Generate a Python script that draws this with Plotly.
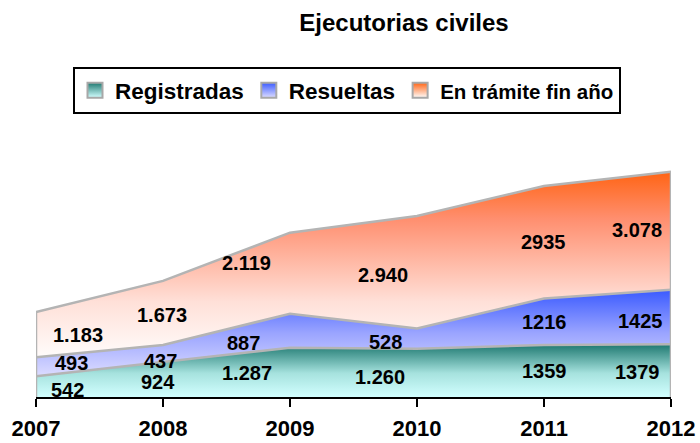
import plotly.graph_objects as go

years = [2007, 2008, 2009, 2010, 2011, 2012]
registradas = [542, 924, 1287, 1260, 1359, 1379]
resueltas = [493, 437, 887, 528, 1216, 1425]
en_tramite = [1183, 1673, 2119, 2940, 2935, 3078]

lbl_registradas = ["542", "924", "1.287", "1.260", "1359", "1379"]
lbl_resueltas = ["493", "437", "887", "528", "1216", "1425"]
lbl_tramite = ["1.183", "1.673", "2.119", "2.940", "2935", "3.078"]

# label anchor positions (text placement only)
pos_reg_x = [2007.25, 2007.96, 2008.66, 2009.71, 2011.0, 2011.74]
pos_reg_y = [183, 392, 627, 522, 679, 653]
pos_res_x = [2007.28, 2007.98, 2008.63, 2009.75, 2011.0, 2011.76]
pos_res_y = [888, 940, 1410, 1436, 1958, 1984]
pos_tra_x = [2007.33, 2007.99, 2008.66, 2009.73, 2010.995, 2011.73]
pos_tra_y = [1619, 2141, 3499, 3185, 4047, 4360]

cum1 = registradas
cum2 = [a + b for a, b in zip(registradas, resueltas)]
cum3 = [a + b for a, b in zip(cum2, en_tramite)]

FONT = "Liberation Sans, Arial, sans-serif"
EDGE = "#b4b4b4"

scale_reg = [[0, "#d2ffff"], [0.45, "#a6e2de"], [1, "#1e7870"]]
scale_res = [[0, "#dcdcff"], [0.5, "#9aa4ff"], [1, "#3a5aff"]]
scale_tra = [[0, "#fffcfb"], [0.3, "#ffe0d8"], [0.75, "#ff8e6e"], [1, "#ff6414"]]

series = [
    ("Registradas", cum1, "tozeroy", scale_reg, 0, max(cum1)),
    ("Resueltas", cum2, "tonexty", scale_res, min(cum1), max(cum2)),
    ("En trámite fin año", cum3, "tonexty", scale_tra, min(cum2), max(cum3)),
]

fig = go.Figure()
for name, ys, fill, cs, s0, s1 in series:
    fig.add_trace(go.Scatter(
        x=years, y=ys, mode="lines", fill=fill, name=name,
        line=dict(color=EDGE, width=2.5),
        fillgradient=dict(type="vertical", colorscale=cs, start=s0, stop=s1),
        showlegend=False, hoverinfo="skip",
    ))

# side edges
fig.add_trace(go.Scatter(
    x=[years[0], years[0], None, years[-1], years[-1]],
    y=[0, cum3[0], None, 0, cum3[-1]],
    mode="lines", line=dict(color=EDGE, width=2.5), showlegend=False, hoverinfo="skip"))

# legend entries
legend_names = ["Registradas", "Resueltas", "<span style='font-size:20.5px'>En trámite fin año</span>"]
for (name, ys, fill, cs, s0, s1), lname in zip(series, legend_names):
    fig.add_trace(go.Scatter(
        x=[None], y=[None], mode="markers", name=lname,
        marker=dict(symbol="square", size=15, color=cs[-1][1],
                    gradient=dict(type="vertical", color=cs[0][1]),
                    line=dict(color="#a8a8a8", width=2)),
    ))

ann = []
for lx, ly, lt in [(pos_reg_x, pos_reg_y, lbl_registradas),
                   (pos_res_x, pos_res_y, lbl_resueltas),
                   (pos_tra_x, pos_tra_y, lbl_tramite)]:
    for x, y, t in zip(lx, ly, lt):
        ann.append(dict(x=x, y=y, text=t, showarrow=False, xref="x", yref="y",
                        font=dict(family=FONT, size=20, color="black", weight="bold")))

fig.update_layout(
    width=700, height=443,
    margin=dict(l=36, r=28.5, t=129, b=46),
    paper_bgcolor="white", plot_bgcolor="white",
    title=dict(text="Ejecutorias civiles", x=404 / 700, xanchor="center", xref="container",
               y=1 - 23 / 443, yanchor="middle", yref="container",
               font=dict(family=FONT, size=24, color="black", weight="bold")),
    legend=dict(orientation="h", xref="container", yref="container", traceorder="normal",
                x=73 / 700, xanchor="left", y=1 - 67 / 443, yanchor="top",
                bordercolor="black", borderwidth=2, bgcolor="white",
                font=dict(family=FONT, size=22.5, color="black", weight="bold"),
                itemclick=False, itemdoubleclick=False),
    annotations=ann,
    showlegend=True,
)
fig.update_xaxes(range=[years[0], years[-1]], tickvals=years, ticktext=[str(y) for y in years],
                 showgrid=False, zeroline=False, showline=True, linecolor="black", linewidth=2,
                 ticks="outside", ticklen=8, tickwidth=2, tickcolor="black",
                 tickfont=dict(family=FONT, size=22, color="black", weight="bold"),
                 automargin=False, ticklabelstandoff=3)
fig.update_yaxes(range=[0, 7000], visible=False, showgrid=False, zeroline=False)

fig.write_html("out.html", config={"displayModeBar": False},
               post_script="document.body.style.margin='0';document.body.style.overflow='hidden';")
